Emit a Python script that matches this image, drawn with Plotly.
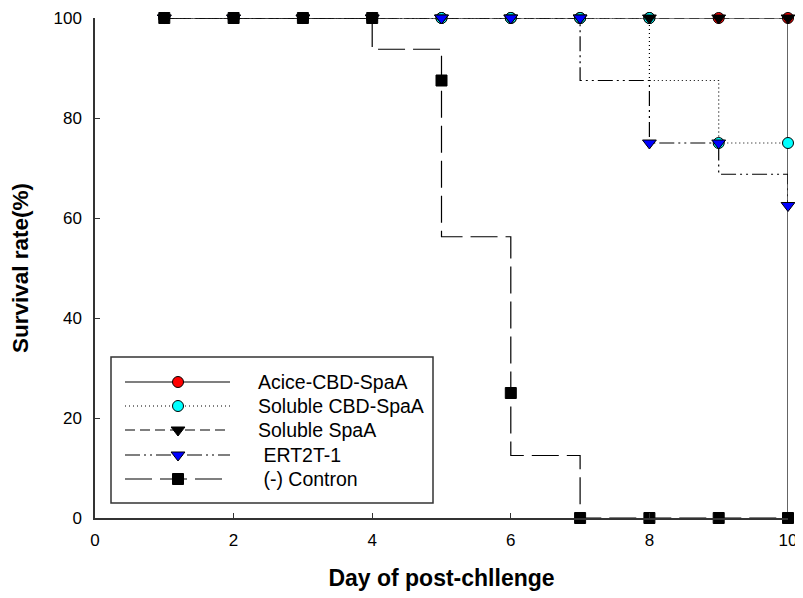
import plotly.graph_objects as go

# ---------------- data ----------------
days = [1, 2, 3, 4, 5, 6, 7, 8, 9, 10]

# observed survival (%) shown with markers
acice_cbd_spaa = [100, 100, 100, 100, 100, 100, 100, 100, 100, 100]
soluble_cbd_spaa = [100, 100, 100, 100, 100, 100, 100, 100, 75, 75]
soluble_spaa = [100, 100, 100, 100, 100, 100, 100, 100, 100, 100]
ert2t_1 = [100, 100, 100, 100, 100, 100, 100, 75, 75, 62.5]
control = [100, 100, 100, 100, 87.5, 25, 0, 0, 0, 0]

# Kaplan-Meier step curves (drawn with horizontal-then-vertical steps)
km_acice_days = [1, 10]
km_acice = [100, 0]
km_cbd_days = [1, 8, 9, 10]
km_cbd = [100, 87.5, 75, 75]
km_spaa_days = [1, 10]
km_spaa = [100, 100]
km_ert_days = [1, 7, 8, 9, 10]
km_ert = [100, 87.5, 75, 68.75, 62.5]
km_ctrl_days = [1, 4, 5, 6, 7, 10]
km_ctrl = [100, 93.75, 56.25, 12.5, 0, 0]

x_ticks = [0, 2, 4, 6, 8, 10]
y_ticks = [0, 20, 40, 60, 80, 100]

series_names = ["Acice-CBD-SpaA", "Soluble CBD-SpaA", "Soluble SpaA",
                "\u00a0ERT2T-1", "\u00a0(-) Contron"]

# ---------------- styles ----------------
FONT = "Liberation Sans, Arial, sans-serif"
styles = [
    dict(dash="solid", symbol="circle", color="#ff0000", size=11),
    dict(dash="1px,3px", symbol="circle", color="#00ffff", size=11),
    dict(dash="10px,5px", symbol="triangle-down", color="#000000", size=12),
    dict(dash="15px,4px,2px,4px,2px,4px", symbol="triangle-down", color="#0000ff", size=12),
    dict(dash="27px,8px", symbol="square", color="#000000", size=11),
]
km_x = [km_acice_days, km_cbd_days, km_spaa_days, km_ert_days, km_ctrl_days]
km_y = [km_acice, km_cbd, km_spaa, km_ert, km_ctrl]
pts_y = [acice_cbd_spaa, soluble_cbd_spaa, soluble_spaa, ert2t_1, control]

fig = go.Figure()

# step lines
for i in range(5):
    st = styles[i]
    fig.add_trace(go.Scatter(
        x=km_x[i], y=km_y[i], mode="lines", line_shape="hv",
        line=dict(color="#000000", width=1.2, dash=st["dash"]),
        hoverinfo="skip", showlegend=False, cliponaxis=False))

# markers
for i in range(5):
    st = styles[i]
    fig.add_trace(go.Scatter(
        x=days, y=pts_y[i], mode="markers", name=series_names[i],
        marker=dict(symbol=st["symbol"], color=st["color"], size=st["size"],
                    line=dict(color="#000000", width=1)),
        showlegend=False, cliponaxis=False))

# ---------------- hand-drawn legend (page-pixel overlay axes) ----------------
PAGE_OFF = 8            # default body margin of the html page
W, H = 803, 598
L, R, T, B = 95, 788, 18, 518   # plot area in page pixels
row_y = [382, 406, 430, 455, 479]
line_x0, line_x1, mark_x, text_x = 125, 230, 178, 256
for i in range(5):
    st = styles[i]
    fig.add_trace(go.Scatter(
        x=[line_x0, line_x1], y=[row_y[i], row_y[i]], mode="lines",
        xaxis="x2", yaxis="y2",
        line=dict(color="#000000", width=1.2, dash=st["dash"]),
        hoverinfo="skip", showlegend=False, cliponaxis=False))
    fig.add_trace(go.Scatter(
        x=[mark_x], y=[row_y[i]], mode="markers", xaxis="x2", yaxis="y2",
        marker=dict(symbol=st["symbol"], color=st["color"], size=st["size"],
                    line=dict(color="#000000", width=1)),
        hoverinfo="skip", showlegend=False, cliponaxis=False))
    fig.add_annotation(x=text_x, y=row_y[i], xref="x2", yref="y2",
                       text=series_names[i], showarrow=False,
                       xanchor="left", yanchor="middle",
                       font=dict(family=FONT, size=19.5, color="#000000"))

fig.add_shape(type="rect", xref="x2", yref="y2", x0=111, x1=433, y0=357, y1=503,
              line=dict(color="#333333", width=1.5), fillcolor="rgba(0,0,0,0)")

axis_common = dict(showgrid=False, zeroline=False, showline=True,
                   linecolor="#333333", linewidth=1.5, ticks="inside",
                   ticklen=5, tickwidth=1.2, tickcolor="#333333",
                   tickfont=dict(family=FONT, size=17, color="#000000"),
                   mirror=False, automargin=False)

fig.update_layout(
    width=W - PAGE_OFF, height=H - PAGE_OFF,
    margin=dict(l=L - PAGE_OFF, r=W - R, t=T - PAGE_OFF, b=H - B),
    paper_bgcolor="white", plot_bgcolor="white",
    showlegend=False,
    xaxis=dict(range=[0, 10], tickvals=x_ticks, ticktext=[str(v) for v in x_ticks],
               ticklabelstandoff=6,
               title=dict(text="Day of post-chllenge", standoff=21,
                          font=dict(family=FONT, size=23, color="#000000", weight="bold")),
               **axis_common),
    yaxis=dict(range=[0, 100], tickvals=y_ticks, ticktext=[str(v) for v in y_ticks],
               ticklabelstandoff=8,
               title=dict(text="Survival rate(%)", standoff=22,
                          font=dict(family=FONT, size=22.5, color="#000000", weight="bold")),
               **axis_common),
    xaxis2=dict(range=[L, R], overlaying="x", visible=False, fixedrange=True),
    yaxis2=dict(range=[B, T], overlaying="y", visible=False, fixedrange=True),
)

fig.write_html("out.html")
